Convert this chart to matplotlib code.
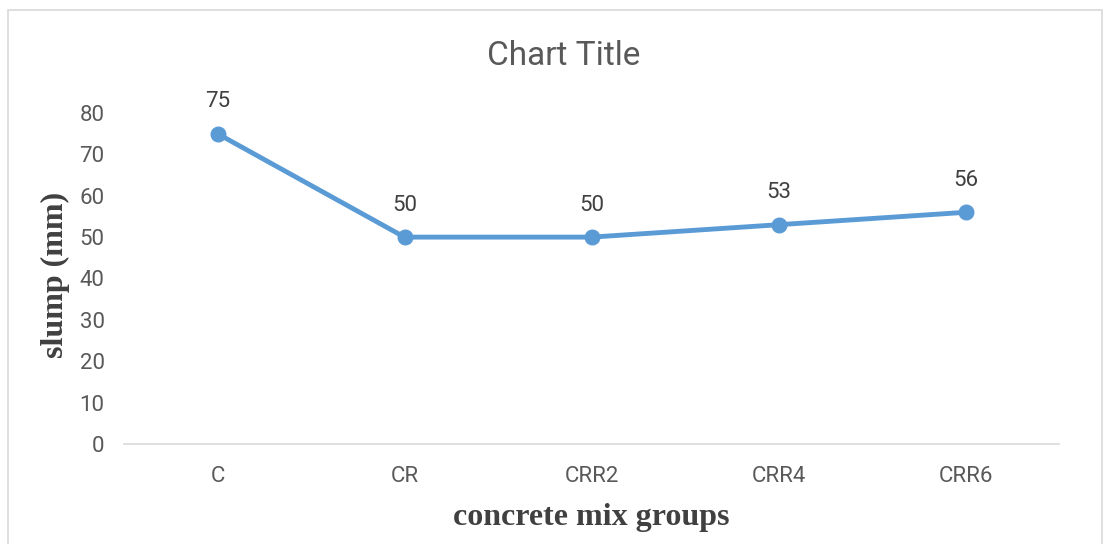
import matplotlib.pyplot as plt
from matplotlib.patches import Rectangle

groups = ["C", "CR", "CRR2", "CRR4", "CRR6"]
slump = [75, 50, 50, 53, 56]
y_ticks = [0, 10, 20, 30, 40, 50, 60, 70, 80]

fig = plt.figure(figsize=(11.07, 5.44), dpi=100)
ax = fig.add_axes([124 / 1107, 1 - 444 / 544, (1059 - 124) / 1107, (444 - 113) / 544])

x = range(len(groups))
ax.plot(x, slump, color="#5B9BD5", linewidth=3.5, marker="o", markersize=10.5,
        solid_capstyle="round", zorder=3)
for xi, v in zip(x, slump):
    ax.annotate(str(v), (xi, v), xytext=(0, 23), textcoords="offset points",
                ha="center", va="center", fontsize=16, color="#404040",
                family="Roboto")

ax.set_xlim(-0.5, len(groups) - 0.5)
ax.set_ylim(0, 80)
ax.set_xticks(list(x))
ax.set_xticklabels(groups)
ax.set_yticks(y_ticks)
for spine in ["top", "right", "left"]:
    ax.spines[spine].set_visible(False)
ax.spines["bottom"].set_color("#D9D9D9")
ax.spines["bottom"].set_linewidth(1.2)
ax.tick_params(length=0, labelsize=16, colors="#595959", pad=14)
ax.tick_params(axis="x", pad=16)
for lab in ax.get_xticklabels() + ax.get_yticklabels():
    lab.set_family("Roboto")

fig.text(564 / 1107, 1 - 56 / 544, "Chart Title", ha="center", va="center",
         fontsize=24, color="#595959", family="Roboto")
fig.text(591 / 1107, 1 - 518 / 544, "concrete mix groups", ha="center", va="center",
         fontsize=23, fontweight="bold", color="#404040", family="Liberation Serif")
fig.text(55 / 1107, 1 - 275 / 544, "slump (mm)", ha="center", va="center",
         rotation=90, fontsize=23, fontweight="bold", color="#404040",
         family="Liberation Serif")

fig.patches.append(Rectangle((8 / 1107, -0.02), 1094 / 1107, 1 - 10 / 544 + 0.02,
                             transform=fig.transFigure, fill=False,
                             edgecolor="#D9D9D9", linewidth=1.2))

fig.savefig("out.png", dpi=100)
